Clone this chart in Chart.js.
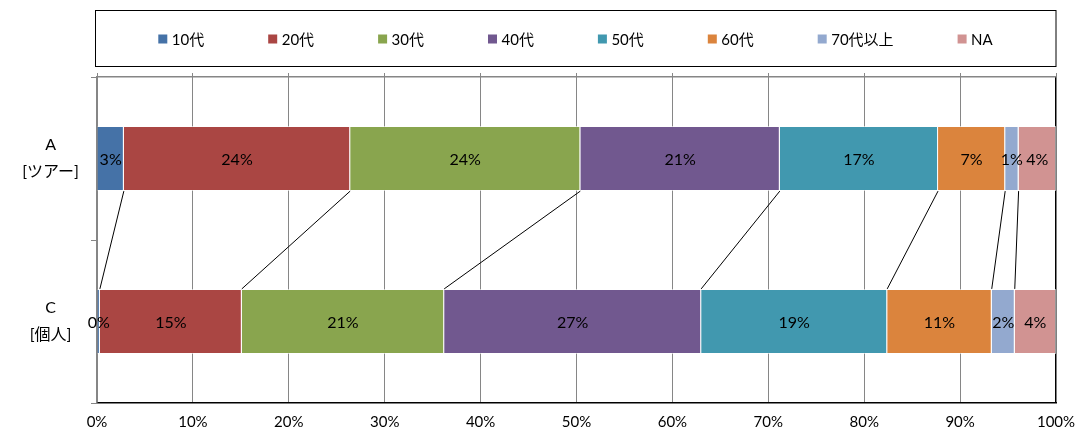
<!DOCTYPE html>
<html>
<head>
<meta charset="utf-8">
<script src="https://cdn.jsdelivr.net/npm/chart.js@4/dist/chart.umd.min.js"></script>
<style>
  html, body { margin: 0; padding: 0; background: #fff; }
  #wrap { width: 1082px; height: 437px; }
</style>
</head>
<body>
<div id="wrap"><canvas id="myChart"></canvas></div>
<script>
const categories = [['A', '[ツアー]'], ['C', '[個人]']];
const seriesNames = ['10代', '20代', '30代', '40代', '50代', '60代', '70代以上', 'NA'];
const seriesColors = ['#4572A7', '#AA4643', '#89A54E', '#71588F', '#4198AF', '#DB843D', '#93A9CF', '#D19392'];
// percent per series, [A, C]
const s10 = [2.8, 0.3];
const s20 = [23.6, 14.8];
const s30 = [24.0, 21.1];
const s40 = [20.8, 26.8];
const s50 = [16.5, 19.4];
const s60 = [7.0, 10.9];
const s70 = [1.4, 2.4];
const sNA = [3.9, 4.3];
const seriesValues = [s10, s20, s30, s40, s50, s60, s70, sNA];
const tickValues = [0, 10, 20, 30, 40, 50, 60, 70, 80, 90, 100];

const FONT = 'Lato, "Noto Sans CJK JP", sans-serif';

const data = {
    labels: categories,
    datasets: seriesNames.map(function (name, i) {
        return {
            label: name,
            data: seriesValues[i],
            backgroundColor: seriesColors[i],
            borderColor: 'rgba(255,255,255,0.6)',
            borderWidth: 1,
            barPercentage: 0.4,
            categoryPercentage: 1
        };
    })
};

// series lines between the two bars
const seriesLines = {
    id: 'seriesLines',
    afterDatasetsDraw: function (chart) {
        var ctx = chart.ctx;
        ctx.save();
        ctx.strokeStyle = '#000';
        ctx.lineWidth = 1;
        for (var i = 0; i < chart.data.datasets.length - 1; i++) {
            var els = chart.getDatasetMeta(i).data;
            var a = els[0], c = els[1];
            ctx.beginPath();
            ctx.moveTo(a.x, a.y + a.height / 2);
            ctx.lineTo(c.x, c.y - c.height / 2);
            ctx.stroke();
        }
        ctx.restore();
    }
};

// value labels inside the bars
const barLabels = {
    id: 'barLabels',
    afterDatasetsDraw: function (chart) {
        var ctx = chart.ctx;
        ctx.save();
        ctx.font = '16px ' + FONT;
        ctx.fillStyle = '#000';
        ctx.textAlign = 'center';
        ctx.textBaseline = 'middle';
        chart.data.datasets.forEach(function (ds, i) {
            chart.getDatasetMeta(i).data.forEach(function (el, j) {
                var text = Math.round(ds.data[j]) + '%';
                ctx.fillText(text, (el.x + el.base) / 2, el.y + 1);
            });
        });
        ctx.restore();
    }
};

// boxed legend on top
const boxLegend = {
    id: 'boxLegend',
    afterDraw: function (chart) {
        var ctx = chart.ctx;
        var area = chart.chartArea;
        ctx.save();
        ctx.strokeStyle = '#000';
        ctx.lineWidth = 1;
        ctx.strokeRect(95.5, 10.5, area.right - 95.5, 56);
        ctx.font = '15px ' + FONT;
        ctx.textBaseline = 'middle';
        var box = 9, gap = 4.5, pad = 64;
        var widths = chart.data.datasets.map(function (ds) {
            return box + gap + ctx.measureText(ds.label).width;
        });
        var total = widths.reduce(function (s, w) { return s + w; }, 0) + pad * (widths.length - 1);
        var x = (95 + area.right) / 2 - total / 2;
        var y = 39;
        chart.data.datasets.forEach(function (ds, i) {
            ctx.fillStyle = ds.backgroundColor;
            ctx.fillRect(x, y - 4.5, box, box);
            ctx.fillStyle = '#000';
            ctx.textAlign = 'left';
            ctx.fillText(ds.label, x + box + gap, y + 1);
            x += widths[i] + pad;
        });
        ctx.restore();
    }
};

const config = {
    type: 'bar',
    data: data,
    options: {
        indexAxis: 'y',
        responsive: true,
        maintainAspectRatio: false,
        animation: false,
        layout: {
            padding: { top: 73, right: 26, bottom: 0, left: 0 }
        },
        plugins: {
            legend: { display: false },
            tooltip: { enabled: false }
        },
        scales: {
            x: {
                stacked: true,
                min: 0,
                max: 100,
                afterBuildTicks: function (scale) {
                    scale.ticks = tickValues.map(function (v) { return { value: v }; });
                },
                afterFit: function (scale) {
                    scale.height = 34;
                    scale.paddingLeft = 0;
                    scale.paddingRight = 0;
                },
                grid: {
                    drawTicks: false,
                    color: function (ctx) {
                        return ctx.tick && ctx.tick.value === 100 ? '#000' : '#868686';
                    },
                    lineWidth: function (ctx) {
                        return ctx.tick && ctx.tick.value === 100 ? 1.5 : 1;
                    }
                },
                border: { color: '#000', width: 1.5 },
                ticks: {
                    padding: 10,
                    color: '#000',
                    font: { family: FONT, size: 15 },
                    callback: function (v) { return v + '%'; }
                }
            },
            xTop: {
                position: 'top',
                min: 0,
                max: 100,
                afterBuildTicks: function (scale) {
                    scale.ticks = tickValues.map(function (v) { return { value: v }; });
                },
                afterFit: function (scale) {
                    scale.height = 4;
                    scale.paddingLeft = 0;
                    scale.paddingRight = 0;
                },
                grid: { drawOnChartArea: false, tickLength: 4, color: '#868686' },
                border: { color: '#868686', width: 1.5 },
                ticks: { display: false }
            },
            y: {
                stacked: true,
                offset: true,
                afterFit: function (scale) {
                    scale.width = 97;
                    scale.paddingTop = 0;
                    scale.paddingBottom = 0;
                },
                grid: {
                    offset: true,
                    drawOnChartArea: false,
                    tickLength: 6,
                    color: '#868686'
                },
                border: { color: '#868686', width: 1.5 },
                ticks: {
                    crossAlign: 'center',
                    padding: 12,
                    color: '#000',
                    font: { family: FONT, size: 16, lineHeight: 1.65 }
                }
            }
        }
    },
    plugins: [seriesLines, barLabels, boxLegend]
};

var myChart = new Chart(document.getElementById('myChart'), config);
</script>
</body>
</html>
